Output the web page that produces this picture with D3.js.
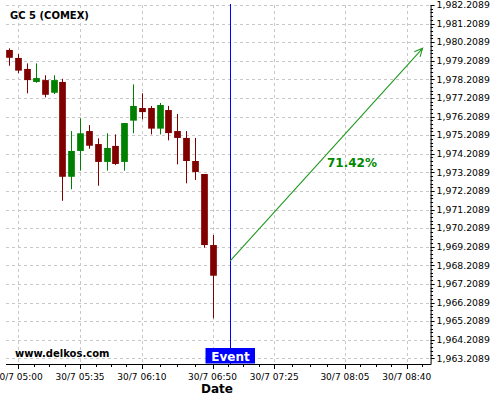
<!DOCTYPE html>
<head>
  <script src="https://d3js.org/d3.v7.min.js"></script>
  <style>
    body { margin: 0; background: #fff; }
    text { font-family: "DejaVu Sans", sans-serif; }
  </style>
</head>
<body>
  <svg id="chart"></svg>
</body>

<script>

    // 5 minute candles, GC 5 (COMEX)
    var times = ["04:55", "05:00", "05:05", "05:10", "05:15", "05:20", "05:25", "05:30",
                 "05:35", "05:40", "05:45", "05:50", "05:55", "06:00", "06:05", "06:10",
                 "06:15", "06:20", "06:25", "06:30", "06:35", "06:40", "06:45", "06:50"];
    var open  = [1979.79, 1979.36, 1978.77, 1978.07, 1978.17, 1977.49, 1978.07, 1972.97,
                 1974.36, 1975.43, 1974.73, 1973.77, 1974.63, 1973.77, 1975.99, 1976.67,
                 1976.67, 1975.56, 1976.56, 1975.43, 1975.06, 1973.82, 1973.12, 1969.30];
    var high  = [1979.88, 1979.57, 1979.07, 1979.07, 1978.43, 1978.43, 1978.24, 1975.43,
                 1976.12, 1975.75, 1975.04, 1975.31, 1975.25, 1975.86, 1977.94, 1977.46,
                 1976.78, 1976.94, 1976.78, 1976.35, 1975.43, 1975.06, 1973.12, 1969.84];
    var low   = [1978.94, 1978.54, 1977.46, 1978.03, 1977.24, 1977.42, 1971.68, 1972.30,
                 1973.30, 1974.48, 1972.49, 1973.30, 1973.60, 1973.30, 1975.31, 1976.06,
                 1975.25, 1975.25, 1974.93, 1973.64, 1972.62, 1972.80, 1969.16, 1965.36];
    var close = [1979.37, 1978.68, 1978.17, 1978.28, 1977.38, 1978.17, 1972.97, 1974.36,
                 1975.31, 1974.64, 1973.77, 1974.52, 1973.66, 1975.86, 1976.78, 1976.45,
                 1975.56, 1976.83, 1975.32, 1975.06, 1973.82, 1973.23, 1969.30, 1967.65];

    var xTicks = ["05:00", "05:35", "06:10", "06:50", "07:25", "08:05", "08:40"];
    var yTicks = [1963.2089, 1964.2089, 1965.2089, 1966.2089, 1967.2089, 1968.2089, 1969.2089,
                  1970.2089, 1971.2089, 1972.2089, 1973.2089, 1974.2089, 1975.2089, 1976.2089,
                  1977.2089, 1978.2089, 1979.2089, 1980.2089, 1981.2089, 1982.2089];

    var eventTime = "07:00";
    var arrowFrom = ["07:00", 1968.45];
    var arrowTo = ["08:49", 1979.88];
    var arrowLabel = "71.42%";

    var width = 500, height = 400;
    var pLeft = 6, pRight = 430.6, pTop = 5, pBottom = 364;

    var parse = d3.timeParse("%H:%M");
    var candles = times.map(function (t, i) {
      return {t: parse(t), o: open[i], h: high[i], l: low[i], c: close[i]};
    });

    var x = d3.scaleTime()
      .domain([parse("05:00"), parse("08:40")])
      .range([18.3, 406.7]);
    var y = d3.scaleLinear()
      .domain([1963.2089, 1982.2089])
      .range([358.3, 5]);

    var svg = d3.select('#chart')
      .attr('width', width)
      .attr('height', height);

    svg.append('clipPath').attr('id', 'plotclip')
      .append('rect')
      .attr('x', pLeft).attr('y', pTop)
      .attr('width', pRight - pLeft).attr('height', pBottom - pTop);

    // grid
    var grid = svg.append('g').attr('clip-path', 'url(#plotclip)')
      .style('stroke', '#c8c8c8')
      .style('stroke-dasharray', '3,3');
    grid.selectAll('.hg').data(yTicks).enter().append('line')
      .attr('x1', pLeft).attr('x2', pRight)
      .attr('y1', function (d) { return Math.round(y(d)) + 0.5; })
      .attr('y2', function (d) { return Math.round(y(d)) + 0.5; });
    grid.selectAll('.vg').data(xTicks).enter().append('line')
      .attr('x1', function (d) { return Math.round(x(parse(d))) + 0.5; })
      .attr('x2', function (d) { return Math.round(x(parse(d))) + 0.5; })
      .attr('y1', pTop).attr('y2', pBottom);

    // candles
    var g = svg.append('g').attr('clip-path', 'url(#plotclip)');
    var bw = 6.7;
    var c = g.selectAll('.candle').data(candles).enter().append('g');
    c.append('line')
      .attr('x1', function (d) { return Math.round(x(d.t)) + 0.5; })
      .attr('x2', function (d) { return Math.round(x(d.t)) + 0.5; })
      .attr('y1', function (d) { return y(d.h); })
      .attr('y2', function (d) { return y(d.l); })
      .style('stroke', function (d) { return d.c >= d.o ? '#008000' : '#800000'; });
    c.append('rect')
      .attr('x', function (d) { return Math.round(x(d.t)) + 0.5 - bw / 2; })
      .attr('width', bw)
      .attr('y', function (d) { return y(Math.max(d.o, d.c)); })
      .attr('height', function (d) { return Math.max(1, Math.abs(y(d.o) - y(d.c))); })
      .style('fill', function (d) { return d.c >= d.o ? '#008000' : '#800000'; });

    // x axis
    var xt = xTicks.map(parse);
    var minor = [];
    for (var i = 0; i < xt.length; i++) {
      var a = xt[i], b = i < xt.length - 1 ? xt[i + 1] : null;
      var step = b ? (b - a) / 4 : (xt[i] - xt[i - 1]) / 4;
      for (var k = 1; k < 4; k++) {
        var m = new Date(+a + k * step);
        if (x(m) < pRight) minor.push(m);
      }
    }
    var xAxis = svg.append('g').attr('transform', 'translate(0,' + pBottom + ')');
    xAxis.append('line').attr('x1', pLeft).attr('x2', pRight + 0.5)
      .attr('y1', 0.5).attr('y2', 0.5).style('stroke', '#000');
    xAxis.selectAll('.mj').data(xt).enter().append('line')
      .attr('x1', function (d) { return Math.round(x(d)) + 0.5; })
      .attr('x2', function (d) { return Math.round(x(d)) + 0.5; })
      .attr('y1', 0).attr('y2', 5).style('stroke', '#000');
    xAxis.selectAll('.mn').data(minor).enter().append('line')
      .attr('x1', function (d) { return Math.round(x(d)) + 0.5; })
      .attr('x2', function (d) { return Math.round(x(d)) + 0.5; })
      .attr('y1', 0).attr('y2', 3).style('stroke', '#000');
    xAxis.selectAll('.lb').data(xt).enter().append('text')
      .attr('x', function (d) { return x(d); })
      .attr('y', 16)
      .attr('text-anchor', 'middle')
      .style('font-size', '9px')
      .text(function (d) { return '30/7 ' + d3.timeFormat('%H:%M')(d); });

    svg.append('text')
      .attr('x', 217).attr('y', 393)
      .attr('text-anchor', 'middle')
      .style('font-size', '12px').style('font-weight', 'bold')
      .text('Date');

    // y axis on the right
    var fmt = d3.format(',.4f');
    var yAxis = svg.append('g').attr('transform', 'translate(' + pRight + ',0)');
    yAxis.append('line').attr('x1', 0.5).attr('x2', 0.5)
      .attr('y1', pTop).attr('y2', pBottom + 0.5).style('stroke', '#000');
    var yMinor = [];
    yTicks.forEach(function (v) {
      for (var k = 1; k < 5; k++) yMinor.push(v + k * 0.2);
    });
    yAxis.selectAll('.mn').data(yMinor.filter(function (v) { return y(v) > pTop; }))
      .enter().append('line')
      .attr('x1', 0).attr('x2', 2.5)
      .attr('y1', function (d) { return Math.round(y(d)) + 0.5; })
      .attr('y2', function (d) { return Math.round(y(d)) + 0.5; })
      .style('stroke', '#000');
    yAxis.selectAll('.mj').data(yTicks).enter().append('line')
      .attr('x1', 0).attr('x2', 4)
      .attr('y1', function (d) { return Math.round(y(d)) + 0.5; })
      .attr('y2', function (d) { return Math.round(y(d)) + 0.5; })
      .style('stroke', '#000');
    yAxis.selectAll('.lb').data(yTicks).enter().append('text')
      .attr('x', 6)
      .attr('y', function (d) { return y(d); })
      .attr('dy', '0.35em')
      .style('font-size', '9.3px')
      .text(function (d) { return fmt(d); });

    // title and watermark
    svg.append('text').attr('x', 10).attr('y', 19)
      .style('font-size', '10px').style('font-weight', 'bold')
      .text('GC 5 (COMEX)');
    svg.append('text').attr('x', 15).attr('y', 357)
      .style('font-size', '10px').style('font-weight', 'bold')
      .text('www.delkos.com');

    // event marker
    var ex = Math.round(x(parse(eventTime))) + 0.5;
    svg.append('line')
      .attr('x1', ex).attr('x2', ex)
      .attr('y1', 4).attr('y2', pBottom)
      .style('stroke', '#0000ff');
    svg.append('rect')
      .attr('x', ex - 25).attr('y', 348)
      .attr('width', 49.5).attr('height', 15.5)
      .style('fill', '#0000ff');
    svg.append('text')
      .attr('x', ex).attr('y', 361)
      .attr('text-anchor', 'middle')
      .style('font-size', '12px').style('font-weight', 'bold')
      .style('fill', '#fff')
      .text('Event');

    // projection arrow
    var x1 = x(parse(arrowFrom[0])), y1 = y(arrowFrom[1]);
    var x2 = x(parse(arrowTo[0])), y2 = y(arrowTo[1]);
    var ang = Math.atan2(y2 - y1, x2 - x1);
    var hl = 9, ha = Math.PI / 7;
    svg.append('path')
      .attr('d', 'M' + x1 + ',' + y1 + 'L' + x2 + ',' + y2 +
        'M' + (x2 - hl * Math.cos(ang - ha)) + ',' + (y2 - hl * Math.sin(ang - ha)) +
        'L' + x2 + ',' + y2 +
        'L' + (x2 - hl * Math.cos(ang + ha)) + ',' + (y2 - hl * Math.sin(ang + ha)))
      .style('fill', 'none')
      .style('stroke', '#229922')
      .style('stroke-width', 1.1);
    svg.append('text')
      .attr('x', 352).attr('y', 167)
      .attr('text-anchor', 'middle')
      .style('font-size', '12px').style('font-weight', 'bold')
      .style('fill', '#008800')
      .text(arrowLabel);

</script>
